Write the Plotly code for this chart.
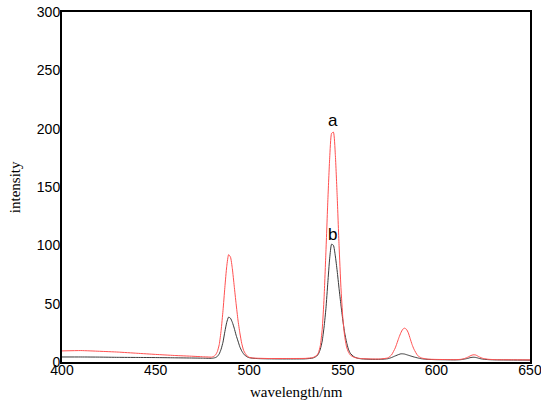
import plotly.graph_objects as go

wavelength = [400, 410, 420, 430, 440, 450, 460, 470, 475, 478, 480, 481, 482, 483, 484, 485, 486, 487, 488, 489,
              490, 491, 492, 493, 494, 495, 496, 497, 498, 499, 500, 502, 505, 510, 520, 530, 534, 536, 537, 538,
              539, 540, 541, 542, 543, 544, 545, 546, 547, 548, 549, 550, 551, 552, 553, 554, 556, 558, 560, 565,
              570, 574, 576, 578, 580, 581, 582, 583, 584, 585, 586, 587, 588, 590, 592, 595, 600, 605, 610, 613,
              615, 617, 618, 619, 620, 621, 622, 623, 625, 628, 632, 640, 650]

intensity_a = [9.5, 9.8, 9.2, 8.5, 7.5, 6.5, 5.6, 4.9, 4.5, 4.3, 4.2, 4.8, 6, 9, 15, 27, 44, 64, 82, 92,
               90, 80, 65, 50, 36, 25, 16, 10, 7, 5, 4, 3.4, 3.2, 3.0, 3.0, 3.1, 3.8, 5.5, 8, 14,
               28, 55, 95, 138, 175, 196, 197, 178, 142, 100, 64, 38, 22, 13, 8.5, 6, 4, 3.3, 2.9, 2.6,
               2.6, 3.5, 6, 12, 21, 25, 28, 29, 28, 25, 20, 15, 11, 5.5, 3.5, 2.5, 2.2, 2.1, 2.0, 2.3,
               3.0, 4.3, 5.2, 5.9, 6.2, 6.0, 5.2, 4.3, 3.0, 2.3, 2.0, 1.9, 1.8]

intensity_b = [4.3, 4.3, 4.2, 4.0, 3.9, 3.8, 3.6, 3.4, 3.3, 3.2, 3.2, 3.4, 3.8, 4.8, 7, 11, 17, 26, 34, 38.5,
               37.5, 34, 29, 23, 18, 13, 9.5, 7, 5.3, 4.3, 3.7, 3.2, 2.9, 2.7, 2.6, 2.7, 3.4, 5, 7, 11,
               18, 30, 46, 68, 89, 101, 100, 91, 78, 63, 49, 36, 25, 17, 11, 7.5, 4.5, 3.2, 2.7, 2.3,
               2.3, 2.8, 3.8, 5.2, 6.5, 7, 7, 6.8, 6.3, 5.8, 5.3, 4.8, 4.3, 3.5, 2.8, 2.3, 2.0, 1.9, 1.8, 2.0,
               2.5, 3.2, 3.7, 4.0, 4.1, 3.9, 3.5, 3.0, 2.4, 2.0, 1.8, 1.7, 1.6]

labels = ["a", "b"]
label_x = [544.8, 544.3]
label_y = [207, 109]

x_title = "wavelength/nm"
y_title = "intensity"

fig = go.Figure()
fig.add_trace(go.Scatter(x=wavelength, y=intensity_b, mode="lines",
                         line=dict(color="#383838", width=1, shape="spline", smoothing=0.5),
                         showlegend=False))
fig.add_trace(go.Scatter(x=wavelength, y=intensity_a, mode="lines",
                         line=dict(color="#ff5050", width=1, shape="spline", smoothing=0.5),
                         showlegend=False))

for t, xx, yy in zip(labels, label_x, label_y):
    fig.add_annotation(x=xx, y=yy, text=t, showarrow=False,
                       font=dict(family="Liberation Sans, Arial", size=17, color="black"))

title_font = dict(family="Liberation Serif, Times New Roman", size=15, color="black")
fig.add_annotation(xref="paper", yref="paper", x=0.5, y=-0.086, text=x_title,
                   showarrow=False, xanchor="center", yanchor="middle", font=title_font)
fig.add_annotation(xref="paper", yref="paper", x=-0.1, y=0.5, text=y_title,
                   showarrow=False, xanchor="center", yanchor="middle", textangle=-90,
                   font=title_font)

axis_common = dict(showline=True, mirror=True, linecolor="black", linewidth=2,
                   showgrid=False, zeroline=False, ticks="", automargin=False,
                   ticklabeloverflow="allow",
                   tickfont=dict(family="Liberation Sans, Arial", size=14, color="black"))

fig.update_layout(
    width=541, height=405,
    margin=dict(l=62, r=11, t=12, b=43),
    paper_bgcolor="white", plot_bgcolor="white",
    xaxis=dict(range=[400, 650], dtick=50, tick0=400, ticklabelstandoff=-6, **axis_common),
    yaxis=dict(range=[0, 300], dtick=50, tick0=0, ticklabelstandoff=-3, **axis_common),
)

fig.write_html("out.html",
               config={"displayModeBar": False},
               post_script="document.body.style.margin='0';document.body.style.overflow='hidden';")
